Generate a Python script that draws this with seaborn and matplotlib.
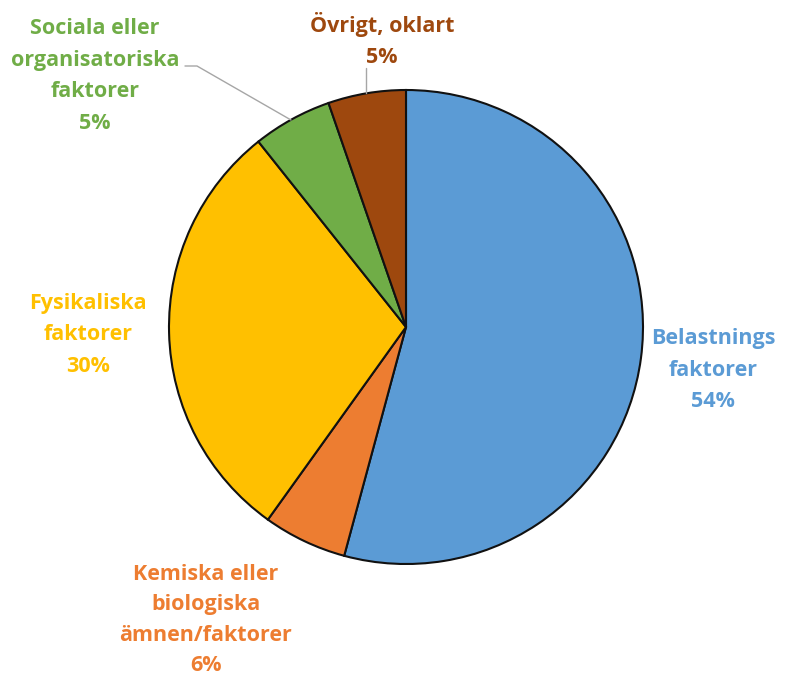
import matplotlib
matplotlib.use("Agg")
import matplotlib.pyplot as plt
import seaborn as sns

categories = ["Belastnings\nfaktorer", "Kemiska eller\nbiologiska\nämnen/faktorer",
              "Fysikaliska\nfaktorer", "Sociala eller\norganisatoriska\nfaktorer", "Övrigt, oklart"]
values = [54.2, 5.7, 29.4, 5.4, 5.3]
pct_labels = ["54%", "6%", "30%", "5%", "5%"]
colors = ["#5B9BD5", "#ED7D31", "#FFC000", "#70AD47", "#9E480E"]

sns.set_theme(style="white")
plt.rcParams['font.family'] = ['Open Sans', 'DejaVu Sans']

W, H = 792, 680
fig = plt.figure(figsize=(7.92, 6.80), dpi=100)
ax = fig.add_axes([0, 0, 1, 1])

cx, cy, r = 406, H - 327, 237
ax.pie(values, colors=colors, startangle=90, counterclock=False,
       center=(cx, cy), radius=r, frame=True,
       wedgeprops=dict(edgecolor="#111111", linewidth=1.5))
ax.set_xlim(0, W)
ax.set_ylim(0, H)
ax.set_aspect("equal")
ax.axis("off")

# label positions (pixel coords, top-left origin)
label_pos = [(713, 370), (206, 620), (88, 335), (95, 76), (382, 40)]
spacings = [1.68, 1.6, 1.68, 1.68, 1.68]
for cat, pct, col, (x, y), ls in zip(categories, pct_labels, colors, label_pos, spacings):
    ax.text(x, H - y, f"{cat}\n{pct}", color=col, fontsize=15.5, fontweight="bold",
            ha="center", va="center", linespacing=ls)

# leader lines
ax.plot([185, 197, 291], [H - 66, H - 66, H - 120], color="#A6A6A6", lw=1)
ax.plot([366, 366], [H - 68, H - 93], color="#A6A6A6", lw=1)

fig.savefig("out.png", dpi=100)
